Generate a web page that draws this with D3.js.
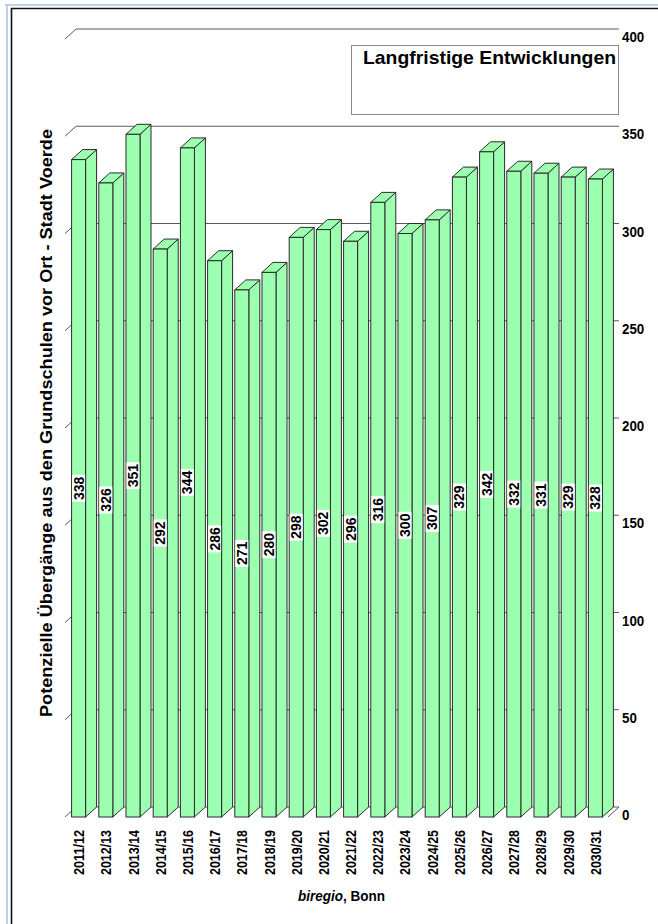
<!DOCTYPE html>
<html>
<head>
<meta charset="utf-8">
<script src="https://cdn.jsdelivr.net/npm/d3@7"></script>
<style>
  body { margin: 0; background: #fff; }
  text { font-family: "Liberation Sans", Arial, sans-serif; }
</style>
</head>
<body>
<svg id="canvas" width="658" height="924"></svg>
<script>
/********** Data *********/
var categories = ["2011/12", "2012/13", "2013/14", "2014/15", "2015/16", "2016/17", "2017/18",
    "2018/19", "2019/20", "2020/21", "2021/22", "2022/23", "2023/24", "2024/25", "2025/26",
    "2026/27", "2027/28", "2028/29", "2029/30", "2030/31"];
var values = [338, 326, 351, 292, 344, 286, 271, 280, 298, 302, 296, 316, 300, 307, 329,
    342, 332, 331, 329, 328];
var yTicks = [0, 50, 100, 150, 200, 250, 300, 350, 400];

var title = "Langfristige Entwicklungen";
var yTitle = "Potenzielle Übergänge aus den Grundschulen vor Ort - Stadt Voerde";

/********** Initialisation *********/
var svg = d3.select("#canvas");
var dx = 11, dy = -10;   // depth of the 3d effect

var x = d3.scaleBand()
    .domain(categories)
    .range([65, 609])
    .paddingInner(0.485)
    .paddingOuter(0.2426);

var y = d3.scaleLinear()
    .domain([0, 400])
    .range([817, 39]);

/********** Page frame *********/
svg.append("line").attr("x1", 5).attr("x2", 658).attr("y1", 5).attr("y2", 5)
    .attr("stroke", "#a9c3e0").attr("stroke-width", 1.5);
svg.append("line").attr("x1", 7).attr("x2", 7).attr("y1", 5).attr("y2", 924)
    .attr("stroke", "#a9c3e0").attr("stroke-width", 1.5);
svg.append("line").attr("x1", 11).attr("x2", 658).attr("y1", 8.5).attr("y2", 8.5)
    .attr("stroke", "#111").attr("stroke-width", 1.6);
svg.append("line").attr("x1", 11.5).attr("x2", 11.5).attr("y1", 8).attr("y2", 924)
    .attr("stroke", "#111").attr("stroke-width", 1.6);

/********** Back wall grid *********/
var grid = svg.append("g").attr("class", "grid");
var x0 = 65, x1 = 608;

grid.selectAll("line.back")
    .data(yTicks)
    .enter()
    .append("line")
    .attr("class", "back")
    .attr("x1", x0 + dx).attr("x2", x1 + dx)
    .attr("y1", function(d) { return y(d) + dy; })
    .attr("y2", function(d) { return y(d) + dy; })
    .attr("stroke", "#5a5a5a").attr("stroke-width", 1);

grid.selectAll("line.side")
    .data(yTicks)
    .enter()
    .append("line")
    .attr("class", "side")
    .attr("x1", x0).attr("x2", x0 + dx)
    .attr("y1", function(d) { return y(d); })
    .attr("y2", function(d) { return y(d) + dy; })
    .attr("stroke", "#5a5a5a").attr("stroke-width", 1);

// floor right edge
grid.append("line")
    .attr("x1", x1).attr("x2", x1 + dx)
    .attr("y1", y(0)).attr("y2", y(0) + dy)
    .attr("stroke", "#5a5a5a").attr("stroke-width", 1);

/********** Axis labels (right) *********/
svg.append("g")
    .selectAll("text")
    .data(yTicks)
    .enter()
    .append("text")
    .attr("x", 622)
    .attr("y", function(d) { return y(d) + 3; })
    .attr("font-size", 15)
    .attr("font-weight", "bold")
    .attr("textLength", function(d) { return String(d).length * 7.4; })
    .attr("lengthAdjust", "spacingAndGlyphs")
    .text(function(d) { return d; });

/********** Title box *********/
svg.append("rect")
    .attr("x", 351.5).attr("y", 45.5).attr("width", 267).attr("height", 69)
    .attr("fill", "#fff").attr("stroke", "#8a8a8a").attr("stroke-width", 1);
svg.append("text")
    .attr("x", 363).attr("y", 64)
    .attr("font-size", 19).attr("font-weight", "bold")
    .attr("textLength", 253).attr("lengthAdjust", "spacingAndGlyphs")
    .text(title);

/********** Bars *********/
var fill = "#9dffb0", edge = "#2b2b2b";
var bars = svg.append("g").attr("class", "bars")
    .selectAll("g")
    .data(values)
    .enter()
    .append("g");

bars.append("path")   // side
    .attr("d", function(d, i) {
        var a = x(categories[i]) + x.bandwidth(), t = y(d), b = y(0);
        return "M" + a + "," + b + "L" + (a + dx) + "," + (b + dy) + "L" + (a + dx) + "," + (t + dy) +
            "L" + a + "," + t + "Z";
    })
    .attr("fill", fill).attr("stroke", edge).attr("stroke-width", 1);

bars.append("path")   // top
    .attr("d", function(d, i) {
        var a = x(categories[i]), w = x.bandwidth(), t = y(d);
        return "M" + a + "," + t + "L" + (a + dx) + "," + (t + dy) + "L" + (a + w + dx) + "," + (t + dy) +
            "L" + (a + w) + "," + t + "Z";
    })
    .attr("fill", fill).attr("stroke", edge).attr("stroke-width", 1);

bars.append("rect")   // front
    .attr("x", function(d, i) { return x(categories[i]); })
    .attr("y", function(d) { return y(d); })
    .attr("width", x.bandwidth())
    .attr("height", function(d) { return y(0) - y(d); })
    .attr("fill", fill).attr("stroke", edge).attr("stroke-width", 1);

/********** Value labels *********/
var vl = svg.append("g").attr("class", "values")
    .selectAll("g")
    .data(values)
    .enter()
    .append("g")
    .attr("transform", function(d, i) {
        var cx = x(categories[i]) + x.bandwidth() / 2;
        var cy = (y(d) + y(0)) / 2;
        return "translate(" + cx + "," + cy + ") rotate(-90)";
    });

vl.append("rect")
    .attr("x", -13.5).attr("y", -6.5).attr("width", 27).attr("height", 13)
    .attr("fill", "#fff");

vl.append("text")
    .attr("text-anchor", "middle")
    .attr("dy", "0.36em")
    .attr("font-size", 14)
    .attr("font-weight", "bold")
    .text(function(d) { return d; });

/********** Category labels *********/
svg.append("g")
    .selectAll("text")
    .data(categories)
    .enter()
    .append("text")
    .attr("transform", function(d) {
        return "translate(" + (x(d) + x.bandwidth() / 2 + 5.5) + ",830) rotate(-90)";
    })
    .attr("text-anchor", "end")
    .attr("font-size", 15)
    .attr("font-weight", "bold")
    .attr("textLength", 45)
    .attr("lengthAdjust", "spacingAndGlyphs")
    .text(function(d) { return d; });

/********** Axis title *********/
svg.append("text")
    .attr("transform", "translate(52,423) rotate(-90)")
    .attr("text-anchor", "middle")
    .attr("font-size", 16)
    .attr("font-weight", "bold")
    .attr("textLength", 588)
    .attr("lengthAdjust", "spacingAndGlyphs")
    .text(yTitle);

/********** Source *********/
var src = svg.append("text")
    .attr("x", 298).attr("y", 901)
    .attr("font-size", 14)
    .attr("font-weight", "bold")
    .attr("textLength", 87)
    .attr("lengthAdjust", "spacingAndGlyphs");
src.append("tspan").attr("font-style", "italic").text("biregio");
src.append("tspan").text(", Bonn");
</script>
</body>
</html>
